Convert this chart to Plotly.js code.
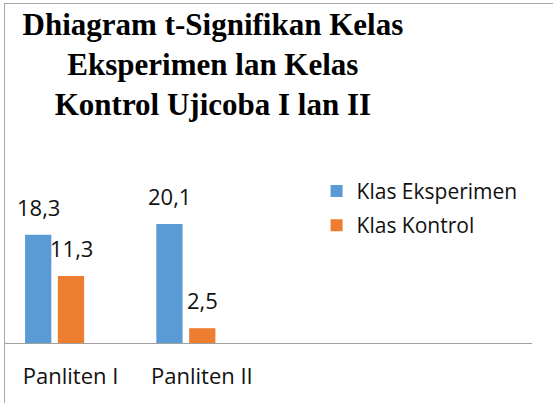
<!DOCTYPE html>
<html>
<head>
<meta charset="utf-8">
<script src="https://cdn.plot.ly/plotly-3.0.1.min.js"></script>
<style>
  html, body { margin: 0; padding: 0; background: #fff; }
  #wrap { position: relative; width: 553px; height: 403px; overflow: hidden; }
  #chart { width: 553px; height: 403px; }
  #frame { position: absolute; left: 4px; top: 3px; width: 600px; height: 500px;
           border-left: 1px solid #a8a8a8; border-top: 1px solid #a8a8a8; pointer-events: none; }
</style>
</head>
<body>
<div id="wrap">
  <div id="chart"></div>
  <div id="frame"></div>
</div>
<script>
const categories = ["Panliten I", "Panliten II"];
const seriesNames = ["Klas Eksperimen", "Klas Kontrol"];
const eksperimen = [18.3, 20.1];
const kontrol = [11.3, 2.5];
const eksperimenLabels = ["18,3", "20,1"];
const kontrolLabels = ["11,3", "2,5"];

const colors = ["#5B9BD5", "#ED7D31"];
const values = [eksperimen, kontrol];
const labels = [eksperimenLabels, kontrolLabels];

const BARGAP = 0.5;
const slot = (1 - BARGAP) / values.length;

const traces = values.map((v, k) => ({
  type: "bar",
  name: seriesNames[k],
  x: categories,
  y: v,
  legendgroup: "g" + k,
  marker: { color: colors[k], line: { width: 0 } },
  hoverinfo: "none"
}));

const annotations = [];
values.forEach((v, k) => {
  v.forEach((val, i) => {
    annotations.push({
      xref: "x", yref: "y",
      x: i - (1 - BARGAP) / 2 + slot * (k + 0.5),
      y: val,
      text: labels[k][i],
      showarrow: false,
      xanchor: "center", yanchor: "bottom",
      yshift: 11,
      font: { family: "Open Sans", size: 22, color: "#111" }
    });
  });
});

const layout = {
  width: 553, height: 403,
  margin: { l: 4, r: 21, t: 20, b: 60 },
  paper_bgcolor: "#ffffff",
  plot_bgcolor: "rgba(0,0,0,0)",
  barmode: "group",
  bargap: BARGAP,
  bargroupgap: 0.2,
  showlegend: true,
  title: {
    text: "Dhiagram t-Signifikan Kelas<br>Eksperimen lan Kelas<br>Kontrol Ujicoba I lan II",
    font: { family: "Liberation Serif", size: 31, color: "#000", weight: "bold" },
    xref: "container", yref: "container",
    x: 0.385, xanchor: "center",
    y: 0.914, yanchor: "top"
  },
  xaxis: {
    type: "category",
    range: [-0.3855, 3.637],
    showline: true, linecolor: "#a0a0a0", linewidth: 1,
    showgrid: false, zeroline: false,
    ticks: "",
    tickangle: 0,
    ticklabelshift: 16,
    ticklabelstandoff: 14,
    tickfont: { family: "Open Sans", size: 22, color: "#111" },
    fixedrange: true
  },
  yaxis: {
    range: [0, 54.56],
    visible: false,
    showgrid: false, zeroline: false, showline: false, showticklabels: false,
    fixedrange: true
  },
  legend: {
    xref: "paper", yref: "paper",
    x: 0.592, xanchor: "left",
    y: 0.533, yanchor: "top",
    traceorder: "grouped",
    tracegroupgap: 4,
    font: { family: "Open Sans", size: 21, color: "#111" },
    bgcolor: "rgba(0,0,0,0)"
  },
  annotations: annotations
};

Plotly.newPlot("chart", traces, layout, { displayModeBar: false, staticPlot: true });
</script>
</body>
</html>
